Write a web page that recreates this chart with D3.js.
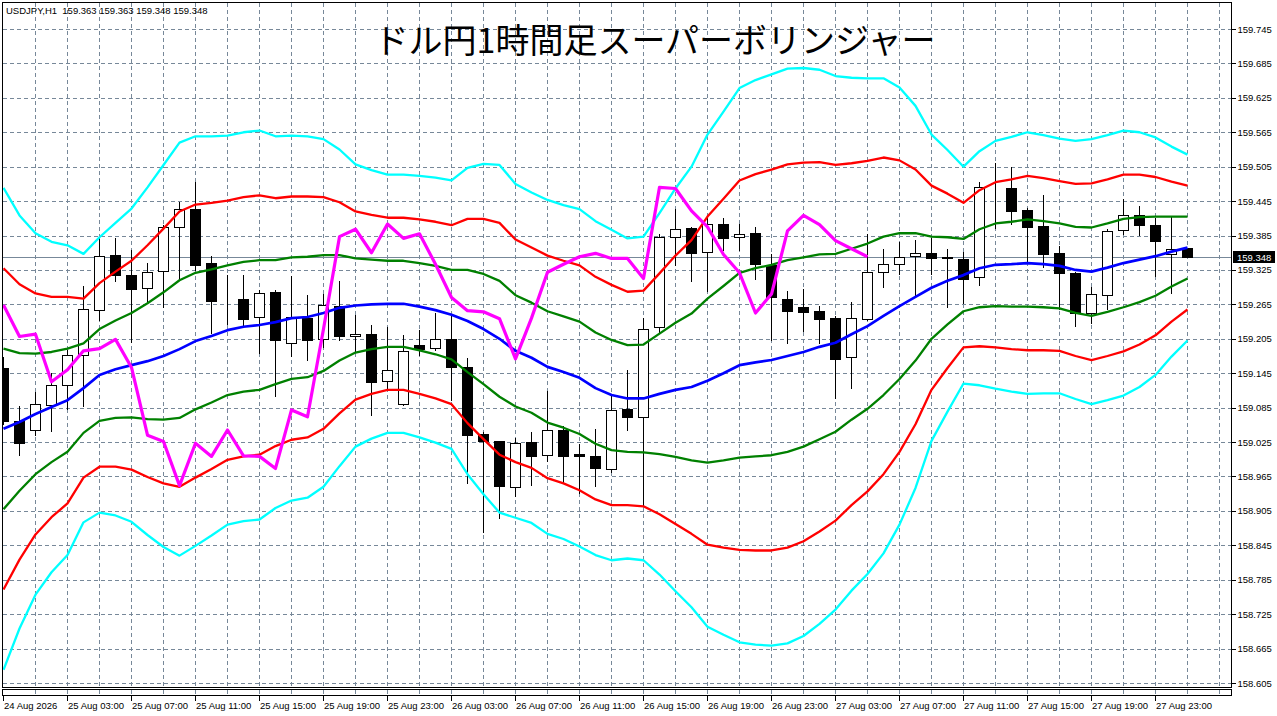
<!DOCTYPE html>
<html><head><meta charset="utf-8">
<script src="https://cdn.jsdelivr.net/npm/d3@7"></script>
<style>
body{margin:0;background:#fff;}
svg{display:block;}
text{font-family:"Liberation Sans",Arial,sans-serif;}
</style>
</head><body>
<svg id="c" width="1277" height="716"></svg>
<script>
// ---------------- data (USDJPY H1) ----------------
const timeLabels = ["24 Aug 2026","25 Aug 03:00","25 Aug 07:00","25 Aug 11:00","25 Aug 15:00","25 Aug 19:00","25 Aug 23:00","26 Aug 03:00","26 Aug 07:00","26 Aug 11:00","26 Aug 15:00","26 Aug 19:00","26 Aug 23:00","27 Aug 03:00","27 Aug 07:00","27 Aug 11:00","27 Aug 15:00","27 Aug 19:00","27 Aug 23:00"];
const timeLabelIndex = [0,4,8,12,16,20,24,28,32,36,40,44,48,52,56,60,64,68,72];
const priceTicks = [158.605,158.665,158.725,158.785,158.845,158.905,158.965,159.025,159.085,159.145,159.205,159.265,159.325,159.385,159.445,159.505,159.565,159.625,159.685,159.745];

const open = [159.154,159.062,159.046,159.090,159.125,159.176,159.255,159.351,159.317,159.293,
159.323,159.399,159.432,159.337,159.274,159.274,159.243,159.287,159.198,159.241,
159.204,159.262,159.210,159.213,159.132,159.091,159.194,159.189,159.205,159.155,
159.039,159.027,158.947,159.025,159.002,159.046,159.004,159.001,158.978,159.083,
159.068,159.225,159.383,159.398,159.356,159.405,159.382,159.390,159.334,159.274,
159.260,159.253,159.241,159.173,159.239,159.321,159.335,159.349,159.354,159.348,
159.344,159.313,159.467,159.468,159.430,159.402,159.355,159.320,159.250,159.282,
159.394,159.420,159.403,159.352,159.363];
const high = [159.173,159.088,159.113,159.146,159.186,159.297,159.383,159.381,159.359,159.337,
159.403,159.444,159.478,159.349,159.316,159.317,159.290,159.290,159.315,159.281,
159.283,159.305,159.247,159.229,159.225,159.212,159.220,159.250,159.247,159.171,
159.042,159.027,159.032,159.043,159.114,159.053,159.022,159.047,159.107,159.151,
159.241,159.388,159.432,159.400,159.415,159.415,159.405,159.399,159.353,159.288,
159.291,159.262,159.245,159.269,159.388,159.362,159.373,159.377,159.380,159.362,
159.357,159.478,159.512,159.505,159.433,159.456,159.366,159.322,159.296,159.396,
159.449,159.437,159.415,159.418,159.363];
const low = [159.057,159.003,159.037,159.045,159.083,159.088,159.238,159.306,159.200,159.270,
159.261,159.309,159.325,159.215,159.231,159.226,159.181,159.106,159.175,159.168,
159.191,159.203,159.183,159.072,159.116,159.090,159.177,159.186,159.098,158.953,
158.869,158.892,158.931,158.950,158.992,158.954,158.936,158.949,158.972,159.046,
158.915,159.217,159.334,159.306,159.288,159.360,159.360,159.310,159.203,159.197,
159.219,159.198,159.101,159.120,159.238,159.295,159.318,159.278,159.318,159.260,
159.267,159.299,159.398,159.405,159.338,159.330,159.257,159.228,159.233,159.257,
159.388,159.386,159.315,159.285,159.348];
const close = [159.062,159.024,159.091,159.125,159.176,159.257,159.349,159.317,159.292,159.321,
159.399,159.432,159.334,159.270,159.274,159.240,159.285,159.203,159.243,159.203,
159.264,159.209,159.213,159.130,159.151,159.184,159.188,159.204,159.155,159.037,
159.026,158.949,159.023,159.000,159.046,159.001,159.000,158.979,159.081,159.069,
159.222,159.383,159.396,159.355,159.405,159.380,159.388,159.335,159.277,159.254,
159.252,159.240,159.170,159.241,159.321,159.335,159.348,159.354,159.345,159.345,
159.310,159.469,159.467,159.428,159.400,159.352,159.320,159.250,159.283,159.393,
159.420,159.404,159.376,159.362,159.348];

// Bollinger middle line (21 SMA) and standard deviation
const bbMid = [159.048,159.060,159.074,159.086,159.098,159.119,159.142,159.152,159.159,159.166,
159.175,159.187,159.201,159.210,159.220,159.226,159.229,159.234,159.241,159.243,
159.250,159.259,159.263,159.265,159.266,159.266,159.261,159.255,159.247,159.236,
159.222,159.205,159.184,159.172,159.156,159.147,159.137,159.119,159.107,159.101,
159.101,159.109,159.116,159.121,159.132,159.145,159.159,159.164,159.168,159.175,
159.182,159.191,159.198,159.213,159.227,159.245,159.262,159.278,159.294,159.306,
159.316,159.328,159.334,159.335,159.337,159.335,159.332,159.325,159.322,159.329,
159.337,159.343,159.349,159.357,159.364];
const bbSd = [0.140,0.120,0.105,0.096,0.090,0.078,0.080,0.085,0.091,0.101,
0.111,0.120,0.119,0.116,0.113,0.113,0.113,0.108,0.106,0.105,
0.101,0.092,0.082,0.078,0.075,0.075,0.076,0.077,0.078,0.089,
0.096,0.101,0.097,0.096,0.097,0.097,0.098,0.097,0.096,0.093,
0.094,0.105,0.117,0.128,0.143,0.152,0.161,0.164,0.166,0.167,
0.165,0.161,0.155,0.149,0.144,0.138,0.127,0.111,0.089,0.076,
0.063,0.068,0.072,0.074,0.076,0.075,0.074,0.075,0.077,0.077,
0.077,0.074,0.069,0.061,0.054];

// Lagging span (close plotted 20 bars back)
const lagging = [159.264,159.209,159.213,159.130,159.151,159.184,159.188,159.204,159.155,159.037,
159.026,158.949,159.023,159.000,159.046,159.001,159.000,158.979,159.081,159.069,
159.222,159.383,159.396,159.355,159.405,159.380,159.388,159.335,159.277,159.254,
159.252,159.240,159.170,159.241,159.321,159.335,159.348,159.354,159.345,159.345,
159.310,159.469,159.467,159.428,159.400,159.352,159.320,159.250,159.283,159.393,
159.420,159.404,159.376,159.362,159.348];

const bandDefs = [
  {k: 3, color:"#00FFFF", w:2.3},
  {k:-3, color:"#00FFFF", w:2.3},
  {k: 2, color:"#FF0000", w:2.3},
  {k:-2, color:"#FF0000", w:2.3},
  {k: 1, color:"#008000", w:2.3},
  {k:-1, color:"#008000", w:2.3},
  {k: 0, color:"#0000FF", w:2.7}
];
const bidPrice = 159.348;
const headerText = "USDJPY,H1  159.363 159.363 159.348 159.348";
const titleText = "ドル円1時間足スーパーボリンジャー";

// ---------------- layout ----------------
const L = 2.5, R = 1231.5, T = 2.5, B = 687.5;
const subTop = 689.5, subBot = 695.5;
const gridColor = "#778899";

const svg = d3.select("#c");
const x = d3.scaleLinear().domain([0, 74]).range([3.5, 1187.5]);
const y = d3.scaleLinear().domain([158.605, 159.745]).range([683, 29]);

svg.append("rect").attr("width",1277).attr("height",716).attr("fill","#fff");

svg.append("defs").append("clipPath").attr("id","plot")
  .append("rect").attr("x",L+0.5).attr("y",T+0.5).attr("width",R-L-1).attr("height",B-T-1);

// grid
const grid = svg.append("g").attr("stroke",gridColor).attr("stroke-width",1).attr("stroke-dasharray","4,3").attr("shape-rendering","crispEdges");
priceTicks.forEach(v=>{
  const yy = Math.round(y(v))+0.5;
  grid.append("line").attr("x1",L).attr("x2",R).attr("y1",yy).attr("y2",yy);
});
const vGrid = d3.range(2, 77, 2);
vGrid.forEach(i=>{
  const xx = Math.floor(x(i))+0.5;
  grid.append("line").attr("x1",xx).attr("x2",xx).attr("y1",T).attr("y2",B);
  grid.append("line").attr("x1",xx).attr("x2",xx).attr("y1",subTop).attr("y2",subBot);
});

const plot = svg.append("g").attr("clip-path","url(#plot)");

// bid line
const by = Math.round(y(bidPrice))+0.5;
plot.append("line").attr("x1",L).attr("x2",R).attr("y1",by).attr("y2",by)
  .attr("stroke",gridColor).attr("stroke-width",1).attr("shape-rendering","crispEdges");

// candles
const candles = plot.append("g").attr("shape-rendering","crispEdges");
open.forEach((o,i)=>{
  const c = close[i];
  const cx = Math.floor(x(i))+0.5;
  candles.append("line").attr("x1",cx).attr("x2",cx)
    .attr("y1",Math.round(y(high[i]))).attr("y2",Math.round(y(low[i]))+1)
    .attr("stroke","#000").attr("stroke-width",1);
  const yTop = Math.round(y(Math.max(o,c)));
  const yBot = Math.round(y(Math.min(o,c)));
  const bull = c > o;
  candles.append("rect")
    .attr("x",cx-5).attr("y",yTop+0.5)
    .attr("width",10).attr("height",Math.max(0,yBot-yTop))
    .attr("fill", bull ? "#fff" : "#000")
    .attr("stroke","#000").attr("stroke-width",1);
});

// bands
const lineGen = d3.line().x((d,i)=>x(i)).y(d=>y(d));
bandDefs.forEach(b=>{
  const vals = bbMid.map((m,i)=> m + b.k*bbSd[i]);
  plot.append("path").attr("d",lineGen(vals)).attr("fill","none")
    .attr("stroke",b.color).attr("stroke-width",b.w).attr("stroke-linejoin","round");
});
// lagging span
plot.append("path").attr("d",lineGen(lagging)).attr("fill","none")
  .attr("stroke","#FF00FF").attr("stroke-width",3.2).attr("stroke-linejoin","round");

// frames
svg.append("rect").attr("x",L).attr("y",T).attr("width",R-L).attr("height",B-T)
  .attr("fill","none").attr("stroke","#000").attr("shape-rendering","crispEdges");
svg.append("rect").attr("x",L).attr("y",subTop).attr("width",R-L).attr("height",subBot-subTop)
  .attr("fill","none").attr("stroke","#000").attr("shape-rendering","crispEdges");

// price axis
const yAxis = d3.axisRight(y).tickValues(priceTicks).tickSize(4).tickPadding(2)
  .tickFormat(d3.format(".3f"));
const ya = svg.append("g").attr("transform",`translate(${R},0)`).call(yAxis);
ya.select(".domain").remove();
ya.selectAll(".tick line").attr("stroke","#000").attr("shape-rendering","crispEdges");
ya.selectAll(".tick text").attr("fill","#000").style("font-size","9.5px")
  .style("font-family","'Liberation Sans',Arial,sans-serif");

// bid price label
svg.append("rect").attr("x",1233).attr("y",by-6.5).attr("width",42).attr("height",12).attr("fill","#000");
svg.append("text").attr("x",1237).attr("y",by).attr("dy","0.35em").attr("fill","#fff")
  .style("font-size","9.5px").text(d3.format(".3f")(bidPrice));

// time axis
const xa = svg.append("g");
timeLabelIndex.forEach((idx,k)=>{
  const xx = Math.floor(x(idx))+0.5;
  xa.append("line").attr("x1",xx).attr("x2",xx).attr("y1",subBot).attr("y2",subBot+5)
    .attr("stroke","#000").attr("shape-rendering","crispEdges");
  xa.append("text").attr("x",xx+0.5).attr("y",709).attr("fill","#000")
    .style("font-size","9.5px").text(timeLabels[k]);
});

// header & title
svg.append("text").attr("x",6).attr("y",14).attr("fill","#000").style("font-size","9.5px")
  .attr("xml:space","preserve").style("white-space","pre").text(headerText);
svg.append("text").attr("x",655).attr("y",53).attr("text-anchor","middle").attr("fill","#000")
  .style("font-family","'Noto Sans CJK JP','Noto Sans CJK SC',sans-serif").style("font-size","34px")
  .text(titleText);
</script>
</body></html>
